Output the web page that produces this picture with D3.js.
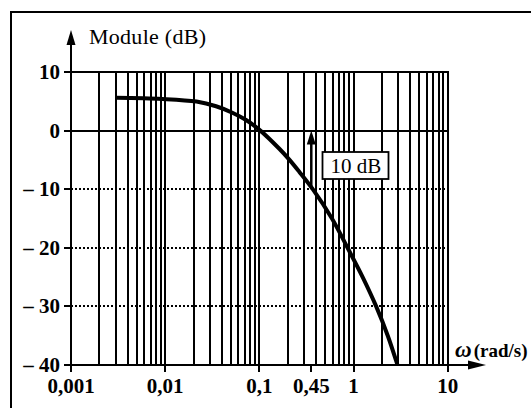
<!DOCTYPE html>
<html>
<head>
<meta charset="utf-8">
<script src="https://cdn.jsdelivr.net/npm/d3@7"></script>
<style>
  body { margin: 0; background: #fff; }
</style>
</head>
<body>
<div id="chart"></div>
<script>
const width = 531;
const height = 408;

// values
const omega = [0.003, 0.0093, 0.0215, 0.0347, 0.0517, 0.0723, 0.1025, 0.163, 0.208, 0.266, 0.369, 0.59, 0.864, 1.25, 1.74, 2.31, 2.93];
const moduleDb = [5.6, 5.4, 4.95, 4.15, 3.05, 1.8, 0, -3.1, -4.95, -7.05, -10, -15, -20, -25, -30, -35, -40];

const xTicks = [0.001, 0.01, 0.1, 0.356, 1, 10];
const xTickLabels = ["0,001", "0,01", "0,1", "0,45", "1", "10"];
const yTicks = [10, 0, -10, -20, -30, -40];
const yTickLabels = ["10", "0", "\u2013 10", "\u2013 20", "\u2013 30", "\u2013 40"];
const dottedLevels = [-10, -20, -30];

const markOmega = 0.356;
const markFrom = -10;
const markTo = 0;
const markLabel = "10 dB";

const x = d3.scaleLog().domain([0.001, 10]).range([71, 447.7]);
const y = d3.scaleLinear().domain([-40, 10]).range([365, 72]);

const svg = d3.select("#chart")
    .append("svg")
    .attr("width", width)
    .attr("height", height)
    .attr("font-family", "'Liberation Serif', 'DejaVu Serif', serif");

// frame (top and left only)
svg.append("path")
    .attr("d", "M11,408 L11,12 L531,12")
    .attr("fill", "none")
    .attr("stroke", "#000")
    .attr("stroke-width", 2);

// vertical grid: 1..9 in each decade
let gridVals = [];
for (let e = -3; e < 1; e++) {
    for (let k = 1; k <= 9; k++) {
        gridVals.push(k * Math.pow(10, e));
    }
}
gridVals.push(10);

svg.append("g")
    .attr("shape-rendering", "crispEdges")
    .selectAll("line")
    .data(gridVals)
    .join("line")
    .attr("x1", d => Math.round(x(d)))
    .attr("x2", d => Math.round(x(d)))
    .attr("y1", y(10))
    .attr("y2", y(-40))
    .attr("stroke", "#000")
    .attr("stroke-width", 2);

// horizontal grid
svg.append("g")
    .attr("shape-rendering", "crispEdges")
    .selectAll("line")
    .data(yTicks)
    .join("line")
    .attr("x1", x(0.001))
    .attr("x2", x(10) + 1)
    .attr("y1", d => Math.round(y(d)))
    .attr("y2", d => Math.round(y(d)))
    .attr("stroke", "#000")
    .attr("stroke-width", 2)
    .attr("stroke-dasharray", d => dottedLevels.includes(d) ? "2,2" : null);

// axes with arrows
const x0 = Math.round(x(0.001));
const yb = Math.round(y(-40));
svg.append("line")
    .attr("x1", x0).attr("x2", x0)
    .attr("y1", yb).attr("y2", 40)
    .attr("stroke", "#000").attr("stroke-width", 2)
    .attr("shape-rendering", "crispEdges");
svg.append("path")
    .attr("d", `M${x0},30 L${x0 - 4.5},45 L${x0 + 4.5},45 Z`)
    .attr("fill", "#000");

svg.append("line")
    .attr("x1", x0).attr("x2", 472)
    .attr("y1", yb).attr("y2", yb)
    .attr("stroke", "#000").attr("stroke-width", 2)
    .attr("shape-rendering", "crispEdges");
svg.append("path")
    .attr("d", `M486,${yb} L468,${yb - 4.5} L468,${yb + 4.5} Z`)
    .attr("fill", "#000");

// y ticks and labels
const yAxis = svg.append("g");
yAxis.selectAll("line")
    .data(yTicks)
    .join("line")
    .attr("x1", x0 - 7).attr("x2", x0)
    .attr("y1", d => Math.round(y(d))).attr("y2", d => Math.round(y(d)))
    .attr("stroke", "#000").attr("stroke-width", 2)
    .attr("shape-rendering", "crispEdges");
yAxis.selectAll("text")
    .data(yTicks)
    .join("text")
    .attr("x", 60)
    .attr("y", d => y(d) + 7)
    .attr("text-anchor", "end")
    .attr("font-size", 21)
    .attr("font-weight", "bold")
    .text((d, i) => yTickLabels[i]);

// x ticks and labels
const xAxis = svg.append("g");
xAxis.selectAll("line")
    .data(xTicks)
    .join("line")
    .attr("x1", d => Math.round(x(d))).attr("x2", d => Math.round(x(d)))
    .attr("y1", yb).attr("y2", yb + 7)
    .attr("stroke", "#000").attr("stroke-width", 2)
    .attr("shape-rendering", "crispEdges");
xAxis.selectAll("text")
    .data(xTicks)
    .join("text")
    .attr("x", d => x(d))
    .attr("y", 393)
    .attr("text-anchor", "middle")
    .attr("font-size", 21)
    .attr("font-weight", "bold")
    .text((d, i) => xTickLabels[i]);

// axis titles
svg.append("text")
    .attr("x", 89)
    .attr("y", 44)
    .attr("font-size", 22)
    .attr("textLength", 117)
    .text("Module (dB)");

const wLabel = svg.append("text")
    .attr("x", 455)
    .attr("y", 357);
wLabel.append("tspan")
    .attr("font-size", 23)
    .attr("font-style", "italic")
    .attr("font-weight", "bold")
    .text("\u03c9");
wLabel.append("tspan")
    .attr("dx", 2)
    .attr("font-size", 19)
    .attr("font-weight", "bold")
    .text("(rad/s)");

// the curve
const line = d3.line()
    .x((d, i) => x(omega[i]))
    .y(d => y(d))
    .curve(d3.curveCatmullRom.alpha(0.5));

svg.append("path")
    .datum(moduleDb)
    .attr("d", line)
    .attr("fill", "none")
    .attr("stroke", "#000")
    .attr("stroke-width", 4)
    .attr("stroke-linejoin", "round");

// 10 dB marker
const mx = x(markOmega);
svg.append("line")
    .attr("x1", mx).attr("x2", mx)
    .attr("y1", y(markFrom)).attr("y2", y(markTo) + 12)
    .attr("stroke", "#000").attr("stroke-width", 2.5);
svg.append("path")
    .attr("d", `M${mx},${y(markTo)} L${mx - 4.5},${y(markTo) + 14} L${mx + 4.5},${y(markTo) + 14} Z`)
    .attr("fill", "#000");

svg.append("rect")
    .attr("x", 322.5).attr("y", 152)
    .attr("width", 66).attr("height", 27)
    .attr("fill", "#fff")
    .attr("stroke", "#000")
    .attr("stroke-width", 1.8);
svg.append("text")
    .attr("x", 356)
    .attr("y", 173)
    .attr("text-anchor", "middle")
    .attr("font-size", 21)
    .text(markLabel);
</script>
</body>
</html>
